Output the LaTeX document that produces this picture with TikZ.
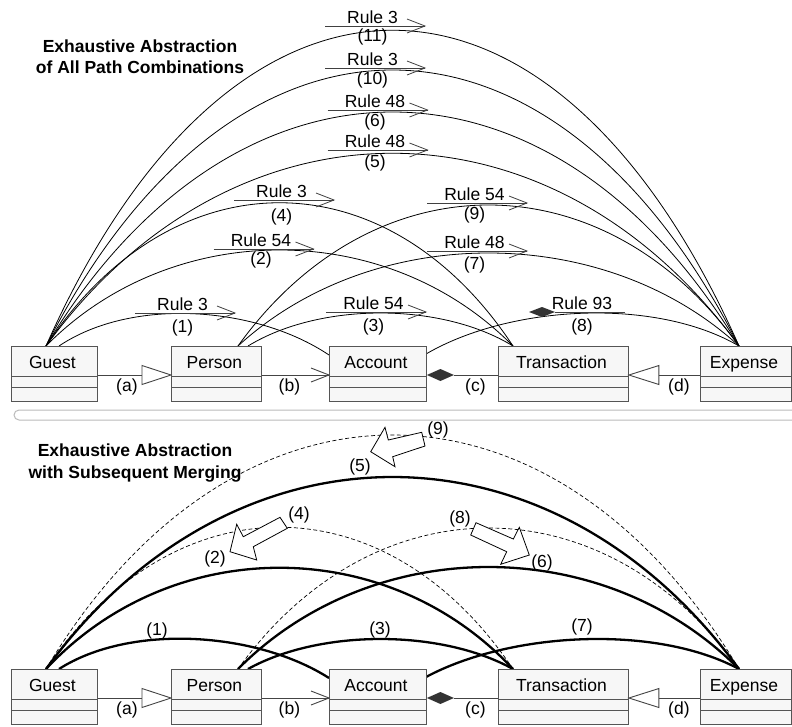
\documentclass[tikz,border=0pt]{standalone}
\usepackage{fontspec}
\setmainfont{Liberation Sans}
\usetikzlibrary{calc}
\definecolor{boxfill}{HTML}{F7F7F7}
\definecolor{boxline}{HTML}{555555}
\definecolor{darkfill}{HTML}{333333}
\definecolor{conncol}{HTML}{444444}
\definecolor{sepcol}{HTML}{BBBBBB}
\newcommand{\classbox}[5]{%
  \node[cbox, minimum width=#4] (#1) at (#2,#3) {};
  \draw[divline] ($(#1.north west)+(0,30)$) -- ($(#1.north east)+(0,30)$);
  \draw[divline] ($(#1.north west)+(0,41)$) -- ($(#1.north east)+(0,41)$);
  \node[ctext, anchor=base] (#1txt) at ($(#1.north)+(-2,22.3)$) {#5};
}
\newcommand{\classrow}[2]{%
  \classbox{#1G}{11}{346+#2}{86}{Guest}
  \classbox{#1P}{171}{346+#2}{90}{Person}
  \classbox{#1A}{329}{346+#2}{97}{Account}
  \classbox{#1T}{498}{346+#2}{130}{Transaction}
  \classbox{#1E}{700}{346+#2}{91}{Expense}
  % (a) generalization
  \draw[conn] ($(#1G.north east)+(0,29)$) -- ($(#1P.north west)+(-29,29)$);
  \draw[conn, fill=white] ($(#1P.north west)+(0,29)$) -- ++(-29,-9.5) -- ++(0,19) -- cycle;
  \node[lbl] (#1la) at ($(#1G.north east)+(29,41)$) {(a)};
  % (b) association
  \draw[conn] ($(#1P.north east)+(0,29)$) -- ($(#1A.north west)+(0,29)$);
  \draw[conn] ($(#1A.north west)+(-18,22)$) -- ($(#1A.north west)+(0,29)$) -- ($(#1A.north west)+(-18,36)$);
  \node[lbl] (#1lb) at ($(#1P.north east)+(27.5,41)$) {(b)};
  % (c) composition
  \draw[conn] ($(#1A.north east)+(27,29)$) -- ($(#1T.north west)+(0,29)$);
  \fill[darkfill] ($(#1A.north east)+(0,29)$) -- ++(13.5,-6) -- ++(13.5,6) -- ++(-13.5,6) -- cycle;
  \node[lbl] (#1lc) at ($(#1A.north east)+(48.5,41)$) {(c)};
  % (d) generalization
  \draw[conn] ($(#1T.north east)+(30,29)$) -- ($(#1E.north west)+(0,29)$);
  \draw[conn, fill=white] ($(#1T.north east)+(0,29)$) -- ++(30,-9.5) -- ++(0,19) -- cycle;
  \node[lbl] (#1ld) at ($(#1T.north east)+(50,41)$) {(d)};
}
\newcommand{\rowanchors}[2]{%
  \coordinate (#1g) at (46,346+#2);
  \coordinate (#1g1) at (59,346+#2);
  \coordinate (#1p) at (238,346+#2);
  \coordinate (#1p2) at (248,346+#2);
  \coordinate (#1al) at (329,355+#2);
  \coordinate (#1ar) at (426,354+#2);
  \coordinate (#1t) at (513,346+#2);
  \coordinate (#1e) at (739,346+#2);
}
\newcommand{\arcto}[5][]{\draw[#1] (#2) .. controls ($(#2)+(#4,-#5)$) and ($(#3)+(-#4,-#5)$) .. (#3);}
\newcommand{\rulelab}[6]{%
  \draw[uline] (#2-50,#3) -- (#2+50,#3);
  \draw[uline] (#2+32,#3-7) -- (#2+50,#3) -- (#2+32,#3+7);
  \node[rtext, anchor=base] (#1r) at (#2-2.5,#3-3) {#4};
  \node[rtext] (#1n) at (#2-2.5,#6) {#5};
}
\begin{document}
\begin{tikzpicture}[x=1pt,y=-1pt,
  cbox/.style={draw=boxline, fill=boxfill, line width=0.9pt, inner sep=0pt, minimum height=55pt, anchor=north west},
  divline/.style={draw=boxline, line width=0.9pt},
  ctext/.style={font=\fontsize{17.5}{21}\selectfont, inner sep=0pt, text=black},
  lbl/.style={font=\fontsize{17.5}{21}\selectfont, inner sep=0pt},
  rtext/.style={font=\fontsize{17.5}{21}\selectfont, inner sep=0pt},
  titlestyle/.style={font=\fontsize{17.5}{21}\selectfont\bfseries, inner sep=0pt, anchor=base},
  conn/.style={draw=conncol, line width=0.9pt, line join=miter},
  thincurve/.style={draw=black, line width=0.8pt},
  boldcurve/.style={draw=black, line width=2.3pt},
  dashcurve/.style={draw=black, line width=0.7pt, dash pattern=on 4pt off 2.5pt},
  uline/.style={draw=black!75, line width=0.8pt},
  blockarrow/.style={draw=black, fill=white, line width=0.8pt, line join=miter}]
\useasboundingbox (0,0) rectangle (792,726);
\fill[white] (0,0) rectangle (792,726);

% titles
\node[titlestyle] (t1a) at (140,52.7) {Exhaustive Abstraction};
\node[titlestyle] (t1b) at (140,73.3) {of All Path Combinations};
\node[titlestyle] (t2a) at (135,456.7) {Exhaustive Abstraction};
\node[titlestyle] (t2b) at (135,478.3) {with Subsequent Merging};

\rowanchors{t}{0}
\rowanchors{b}{323}

% ---------- top curves ----------
\arcto[thincurve]{tg}{te}{187}{421}
\arcto[thincurve]{tg}{te}{187}{368}
\arcto[thincurve]{tg}{te}{187}{312}
\arcto[thincurve]{tg}{te}{187}{257}
\arcto[thincurve]{tg}{tt}{126}{191}
\arcto[thincurve]{tg}{tt}{126}{128}
\arcto[thincurve]{tg1}{tal}{73}{49}
\arcto[thincurve]{tp2}{tt}{72}{44}
\arcto[thincurve]{tp}{te}{135}{188}
\arcto[thincurve]{tp}{te}{135}{124}
\arcto[thincurve]{tar}{te}{84}{49}

% rule labels
\rulelab{r11}{375}{26}{Rule 3}{(11)}{37}
\rulelab{r10}{375}{68}{Rule 3}{(10)}{80}
\rulelab{r6}{377.5}{110}{Rule 48}{(6)}{122}
\rulelab{r5}{377.5}{150}{Rule 48}{(5)}{163}
\rulelab{r4}{284}{200}{Rule 3}{(4)}{217}
\rulelab{r2}{263.5}{249}{Rule 54}{(2)}{260}
\rulelab{r1}{185}{313}{Rule 3}{(1)}{328}
\rulelab{r3}{376}{312}{Rule 54}{(3)}{327}
\rulelab{r9}{477}{203}{Rule 54}{(9)}{215}
\rulelab{r7}{477}{251}{Rule 48}{(7)}{265}
\fill[darkfill] (529,312) -- (542,307) -- (555,312) -- (542,317) -- cycle;
\draw[uline] (555,312) -- (625,312);
\node[rtext, anchor=base] (r8r) at (582,309) {Rule 93};
\node[rtext] (r8n) at (582,327) {(8)};

% ---------- bottom curves ----------
\arcto[dashcurve]{bg}{bt}{127}{189}
\arcto[dashcurve]{bp}{be}{135}{188}
\arcto[dashcurve]{bg}{be}{187}{312}
\arcto[boldcurve]{bg1}{bal}{72}{46}
\arcto[boldcurve]{bp2}{bt}{72}{40}
\arcto[boldcurve]{bar}{be}{84}{45}
\arcto[boldcurve]{bg}{bt}{126}{135}
\arcto[boldcurve]{bp}{be}{135}{136}
\arcto[boldcurve]{bg}{be}{187}{256}

\node[lbl] (n1) at (157,631) {(1)};
\node[lbl] (n3) at (380,630) {(3)};
\node[lbl] (n7) at (582,627) {(7)};
\node[lbl] (n2) at (215,559) {(2)};
\node[lbl] (n6) at (542,563) {(6)};
\node[lbl] (n5) at (360,467) {(5)};
\node[lbl] (n4) at (299,515) {(4)};
\node[lbl] (n8) at (460,519) {(8)};
\node[lbl] (n9) at (438,430) {(9)};

% merge arrows
\draw[blockarrow] (370.7,451.7) -- (385,427.3) -- (388.3,440) -- (421.7,432.3) -- (425,446) -- (392.7,456.7) -- (395,466.7) -- cycle;
\draw[blockarrow] (230,551.7) -- (236.7,524.3) -- (243.3,536.7) -- (280,517.3) -- (287.3,528.3) -- (253.3,546.7) -- (256.7,560) -- cycle;
\draw[blockarrow] (529.3,555) -- (519.3,527.3) -- (513.3,539) -- (476,522.7) -- (470.7,535) -- (506.7,551.7) -- (500.7,564.3) -- cycle;

% separator
\draw[draw=sepcol, line width=1pt, rounded corners=5pt] (14,410) rectangle (806,420);

% class rows
\classrow{t}{0}
\classrow{b}{323}
\end{tikzpicture}
\end{document}
